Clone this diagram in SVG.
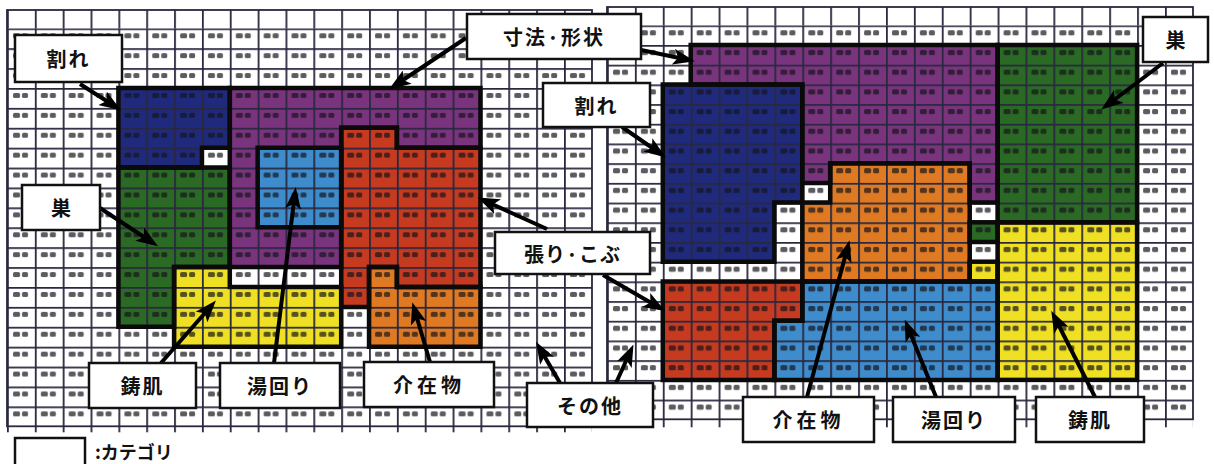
<svg xmlns="http://www.w3.org/2000/svg" width="1214" height="464" viewBox="0 0 1214 464">
<style>
.blk{stroke:#0a0a0a;stroke-width:4.5;stroke-linejoin:miter}
.blue{fill:#1f2a7c}.purple{fill:#7a347e}.green{fill:#2b6a24}.lblue{fill:#3f8ccc}
.red{fill:#c63a20}.orange{fill:#df7a22}.yellow{fill:#efe024}
.gl{stroke:#28283f;stroke-width:1.8;fill:none}
.mk{fill:#15151c;opacity:.7}
.box{fill:#fff;stroke:#111;stroke-width:2.5}
.lbl{font-family:"Noto Sans CJK JP","Noto Sans",sans-serif;font-weight:700;font-size:20px;fill:#111;text-anchor:middle;dominant-baseline:central}
.arr{stroke:#000;stroke-width:4;fill:none;marker-end:url(#ah)}
</style>
<defs>
<marker id="ah" viewBox="0 0 22 16" refX="16" refY="8" markerWidth="22" markerHeight="16" markerUnits="userSpaceOnUse" orient="auto">
<path d="M0,0 L22,8 L0,16 L5,8 z" fill="#000"/>
</marker>
<pattern id="gridL" patternUnits="userSpaceOnUse" x="7" y="28.3" width="27.85" height="19.9">
<path class="gl" d="M0.9,0 V19.9 M0,0.9 H27.85"/>
<rect class="mk" x="6" y="5" width="7" height="5" rx="1.5"/>
<rect class="mk" x="15" y="5" width="6" height="5" rx="1.5"/>
</pattern>
<pattern id="hdrL" patternUnits="userSpaceOnUse" x="7" y="0" width="27.85" height="40">
<path class="gl" d="M0.9,0 V40"/>
</pattern>
<pattern id="gridR" patternUnits="userSpaceOnUse" x="607" y="25.3" width="27.9" height="19.7">
<path class="gl" d="M0.9,0 V19.7 M0,0.9 H27.9"/>
<rect class="mk" x="6" y="5" width="7" height="5" rx="1.5"/>
<rect class="mk" x="15" y="5" width="6" height="5" rx="1.5"/>
</pattern>
<pattern id="hdrR" patternUnits="userSpaceOnUse" x="607" y="0" width="27.9" height="40">
<path class="gl" d="M0.9,0 V40"/>
</pattern>
</defs>
<rect width="1214" height="464" fill="#fff"/>

<g id="blocks-left">
<polygon id="L-blue" class="blue" points="118.4,88 229.8,88 229.8,147.7 201.95,147.7 201.95,167.6 118.4,167.6"/>
<polygon id="L-green" class="green" points="118.4,167.6 229.8,167.6 229.8,267.1 174.1,267.1 174.1,326.8 118.4,326.8"/>
<polygon id="L-purple" class="purple" points="229.8,88 480.45,88 480.45,147.7 396.9,147.7 396.9,127.8 341.2,127.8 341.2,267.1 229.8,267.1"/>
<polygon id="L-lblue" class="lblue" points="257.65,147.7 341.2,147.7 341.2,227.3 257.65,227.3"/>
<polygon id="L-red" class="red" points="341.2,127.8 396.9,127.8 396.9,147.7 480.45,147.7 480.45,287 396.9,287 396.9,267.1 369.05,267.1 369.05,306.9 341.2,306.9"/>
<polygon id="L-orange" class="orange" points="369.05,267.1 396.9,267.1 396.9,287 480.45,287 480.45,346.7 369.05,346.7"/>
<polygon id="L-yellow" class="yellow" points="174.1,267.1 229.8,267.1 229.8,287 341.2,287 341.2,346.7 174.1,346.7"/>
</g>
<g id="blocks-right">
<polygon id="R-purple" class="purple" points="690.7,45 997.6,45 997.6,202.6 969.7,202.6 969.7,163.2 830.2,163.2 830.2,182.9 802.3,182.9 802.3,84.4 690.7,84.4"/>
<polygon id="R-blue" class="blue" points="662.8,84.4 802.3,84.4 802.3,202.6 774.4,202.6 774.4,261.7 662.8,261.7"/>
<polygon id="R-orange" class="orange" points="830.2,163.2 969.7,163.2 969.7,281.4 802.3,281.4 802.3,202.6 830.2,202.6"/>
<polygon id="R-green" class="green" points="997.6,45 1137.1,45 1137.1,222.3 997.6,222.3"/>
<rect id="R-green2" class="green" x="969.7" y="222.3" width="27.9" height="19.7"/>
<polygon id="R-yellow" class="yellow" points="997.6,222.3 1137.1,222.3 1137.1,379.9 997.6,379.9"/>
<rect id="R-yellow2" class="yellow" x="969.7" y="261.7" width="27.9" height="19.7"/>
<polygon id="R-red" class="red" points="662.8,281.4 802.3,281.4 802.3,320.8 774.4,320.8 774.4,379.9 662.8,379.9"/>
<polygon id="R-lblue" class="lblue" points="802.3,281.4 997.6,281.4 997.6,379.9 774.4,379.9 774.4,320.8 802.3,320.8"/>
</g>

<g id="grids">
<rect x="7" y="10" width="585" height="18.3" fill="url(#hdrL)"/>
<rect x="7" y="28.3" width="585" height="398" fill="url(#gridL)"/>
<rect x="7" y="426.3" width="585" height="6" fill="url(#hdrL)"/>
<rect class="gl" x="7" y="10" width="585" height="416.3"/>
<rect x="607" y="7" width="586" height="18.3" fill="url(#hdrR)"/>
<rect x="607" y="25.3" width="586" height="394" fill="url(#gridR)"/>
<rect x="607" y="419.3" width="586" height="8" fill="url(#hdrR)"/>
<rect class="gl" x="607" y="7" width="586" height="412.3"/>
</g>

<g id="outlines" fill="none">
<polygon class="blk" fill="none" points="118.4,88 229.8,88 229.8,147.7 201.95,147.7 201.95,167.6 118.4,167.6"/>
<polygon class="blk" fill="none" points="118.4,167.6 229.8,167.6 229.8,267.1 174.1,267.1 174.1,326.8 118.4,326.8"/>
<polygon class="blk" fill="none" points="229.8,88 480.45,88 480.45,147.7 396.9,147.7 396.9,127.8 341.2,127.8 341.2,267.1 229.8,267.1"/>
<polygon class="blk" fill="none" points="257.65,147.7 341.2,147.7 341.2,227.3 257.65,227.3"/>
<polygon class="blk" fill="none" points="341.2,127.8 396.9,127.8 396.9,147.7 480.45,147.7 480.45,287 396.9,287 396.9,267.1 369.05,267.1 369.05,306.9 341.2,306.9"/>
<polygon class="blk" fill="none" points="369.05,267.1 396.9,267.1 396.9,287 480.45,287 480.45,346.7 369.05,346.7"/>
<polygon class="blk" fill="none" points="174.1,267.1 229.8,267.1 229.8,287 341.2,287 341.2,346.7 174.1,346.7"/>
<polygon class="blk" fill="none" points="690.7,45 997.6,45 997.6,202.6 969.7,202.6 969.7,163.2 830.2,163.2 830.2,182.9 802.3,182.9 802.3,84.4 690.7,84.4"/>
<polygon class="blk" fill="none" points="662.8,84.4 802.3,84.4 802.3,202.6 774.4,202.6 774.4,261.7 662.8,261.7"/>
<polygon class="blk" fill="none" points="830.2,163.2 969.7,163.2 969.7,281.4 802.3,281.4 802.3,202.6 830.2,202.6"/>
<rect class="blk" fill="none" x="997.6" y="45" width="139.5" height="177.3"/>
<rect class="blk" fill="none" x="969.7" y="222.3" width="27.9" height="19.7"/>
<rect class="blk" fill="none" x="997.6" y="222.3" width="139.5" height="157.6"/>
<rect class="blk" fill="none" x="969.7" y="261.7" width="27.9" height="19.7"/>
<polygon class="blk" fill="none" points="662.8,281.4 802.3,281.4 802.3,320.8 774.4,320.8 774.4,379.9 662.8,379.9"/>
<polygon class="blk" fill="none" points="802.3,281.4 997.6,281.4 997.6,379.9 774.4,379.9 774.4,320.8 802.3,320.8"/>
</g>

<g id="connectors">
<line class="arr" x1="80" y1="84" x2="116" y2="107"/>
<line class="arr" x1="466" y1="38" x2="394" y2="86"/>
<line class="arr" x1="641" y1="50" x2="689" y2="60"/>
<line class="arr" x1="622" y1="127" x2="661" y2="154"/>
<line class="arr" x1="100" y1="208" x2="153" y2="243"/>
<line class="arr" x1="1163" y1="63" x2="1106" y2="106"/>
<line class="arr" x1="547" y1="229" x2="483" y2="200"/>
<line class="arr" x1="603" y1="275" x2="660" y2="308"/>
<line class="arr" x1="560" y1="383" x2="539" y2="347"/>
<line class="arr" x1="616" y1="383" x2="631" y2="350"/>
<line class="arr" x1="161" y1="363" x2="212" y2="305"/>
<line class="arr" x1="274" y1="363" x2="295" y2="193"/>
<line class="arr" x1="430" y1="362" x2="414" y2="308"/>
<line class="arr" x1="807" y1="397" x2="848" y2="246"/>
<line class="arr" x1="936" y1="397" x2="907" y2="325"/>
<line class="arr" x1="1095" y1="397" x2="1054" y2="316"/>
</g>

<g id="label-wareL"><rect class="box" x="15" y="35" width="107" height="47"/><text class="lbl" x="68.5" y="58.5" letter-spacing="2">割れ</text></g>
<g id="label-sunpou"><rect class="box" x="467" y="14" width="174" height="45"/><text class="lbl" x="554" y="36.5" letter-spacing="2">寸法·形状</text></g>
<g id="label-wareR"><rect class="box" x="543" y="83" width="107" height="44"/><text class="lbl" x="596.5" y="105" letter-spacing="2">割れ</text></g>
<g id="label-suL"><rect class="box" x="22" y="185" width="78" height="45"/><text class="lbl" x="61" y="207.5" font-weight="400">巣</text></g>
<g id="label-suR"><rect class="box" x="1143" y="17" width="65" height="45"/><text class="lbl" x="1175.5" y="39.5">巣</text></g>
<g id="label-hari"><rect class="box" x="495" y="232" width="155" height="42"/><text class="lbl" x="572.5" y="253" letter-spacing="1">張り·こぶ</text></g>
<g id="label-sonota"><rect class="box" x="527" y="383" width="126" height="44"/><text class="lbl" x="590" y="405" letter-spacing="2">その他</text></g>
<g id="label-hadaL"><rect class="box" x="89" y="363" width="107" height="45"/><text class="lbl" x="142.5" y="385.5" letter-spacing="2">鋳肌</text></g>
<g id="label-yumawariL"><rect class="box" x="220" y="363" width="120" height="45"/><text class="lbl" x="280" y="385.5" letter-spacing="2">湯回り</text></g>
<g id="label-kaizaiL"><rect class="box" x="364" y="362" width="130" height="45"/><text class="lbl" x="429" y="384.5" letter-spacing="4">介在物</text></g>
<g id="label-kaizaiR"><rect class="box" x="743" y="397" width="131" height="45"/><text class="lbl" x="808.5" y="419.5" letter-spacing="4">介在物</text></g>
<g id="label-yumawariR"><rect class="box" x="893" y="397" width="122" height="45"/><text class="lbl" x="954" y="419.5" letter-spacing="2">湯回り</text></g>
<g id="label-hadaR"><rect class="box" x="1036" y="397" width="108" height="45"/><text class="lbl" x="1090" y="419.5" letter-spacing="2">鋳肌</text></g>

<g id="legend">
<rect class="box" x="15" y="438" width="70" height="40"/>
<text class="lbl" x="95" y="451" style="text-anchor:start;font-size:18px">:カテゴリ</text>
</g>
</svg>
